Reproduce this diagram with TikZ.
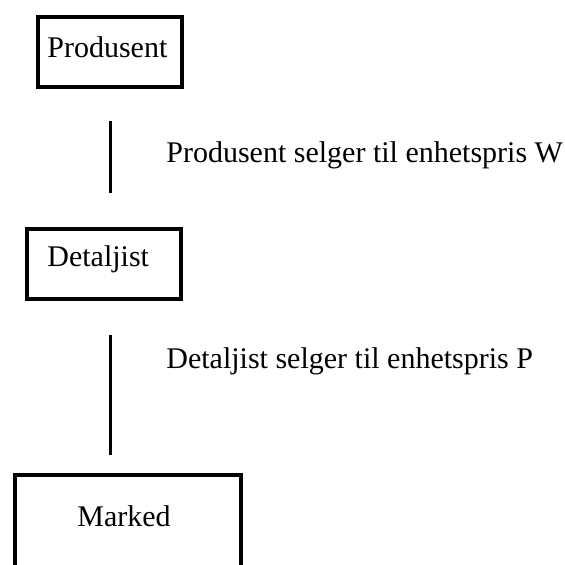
\documentclass[tikz,border=0pt]{standalone}
\usepackage{fontspec}
\setmainfont{Liberation Serif}
\begin{document}
\begin{tikzpicture}[x=0.5pt, y=-0.5pt]
	\tikzstyle{place}=[rectangle, draw=black, line width=2pt]
	\tikzstyle{word}=[anchor=base west, inner sep=0pt, font=\fontsize{15}{18}\selectfont]
	\useasboundingbox (0, 0) rectangle (564, 565);
	\clip (0, 0) rectangle (564, 565);
	\draw node[place, minimum width=72pt, minimum height=35pt] at (110, 52) (prodbox) {};
	\draw node[place, minimum width=77pt, minimum height=35pt] at (104, 264) (detbox) {};
	\draw node[place, minimum width=113pt, minimum height=72pt] at (128, 547) (markbox) {};
	\draw node[word] at (47, 58) (prod) {Produsent};
	\draw node[word] at (47, 267) (det) {Detaljist};
	\draw node[word] at (77, 526) (mark) {Marked};
	\draw node[word] at (166, 163) (w) {Produsent selger til enhetspris W};
	\draw node[word] at (166, 368) (p) {Detaljist selger til enhetspris P};
	
	\coordinate (a1) at (110, 121);
	\coordinate (b1) at (110, 193);
	\coordinate (a2) at (110, 335);
	\coordinate (b2) at (110, 455);
	\draw [line width=1.5pt] (a1) -- (b1);
	\draw [line width=1.5pt] (a2) -- (b2);
\end{tikzpicture}
\end{document}
